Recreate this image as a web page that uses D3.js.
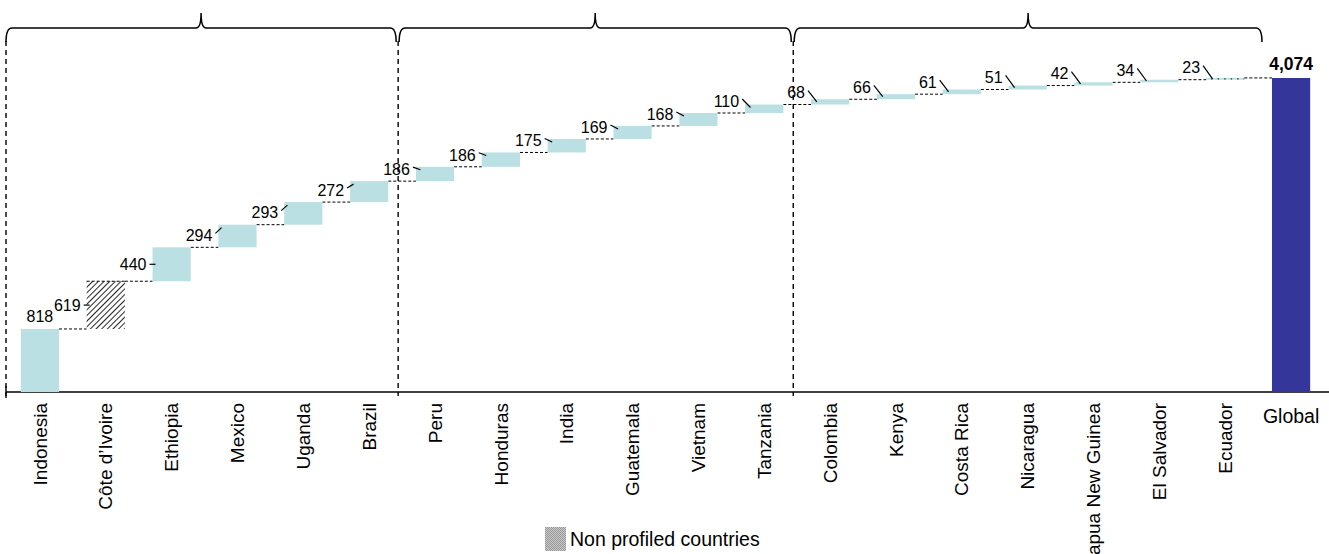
<!DOCTYPE html>
<html><head><meta charset="utf-8">
<script src="https://cdn.jsdelivr.net/npm/d3@7/dist/d3.min.js"></script>
<style>
body{margin:0;background:#fff;}
svg{display:block;font-family:"Liberation Sans",Arial,sans-serif;}
</style></head>
<body><svg id="c" width="1329" height="554"></svg>
<script>
const categories = ["Indonesia","Côte d’Ivoire","Ethiopia","Mexico","Uganda","Brazil","Peru","Honduras","India","Guatemala","Vietnam","Tanzania","Colombia","Kenya","Costa Rica","Nicaragua","Papua New Guinea","El Salvador","Ecuador"];
const values = [818,619,440,294,293,272,186,186,175,169,168,110,68,66,61,51,42,34,23];
const totalLabel = "Global";
const totalValue = 4074;
const nonProfiled = ["Côte d’Ivoire"];
const groupStarts = ["Indonesia","Peru","Colombia"];
const legendLabel = "Non profiled countries";

const svg = d3.select("#c");
const allCats = categories.concat([totalLabel]);
const x = d3.scaleBand().domain(allCats).range([7,1324]).paddingInner(0.42).paddingOuter(0.21);
const y = d3.scaleLinear().domain([0,totalValue]).range([392,78]);
const bw = x.bandwidth();

const defs = svg.append("defs");
const hatch = defs.append("pattern").attr("id","hatch").attr("patternUnits","userSpaceOnUse")
  .attr("width",4).attr("height",4).attr("patternTransform","rotate(45)");
hatch.append("rect").attr("width",4).attr("height",4).attr("fill","#fff");
hatch.append("line").attr("x1",0).attr("y1",0).attr("x2",0).attr("y2",4).attr("stroke","#1a1a1a").attr("stroke-width",1.9);
const chk = defs.append("pattern").attr("id","chk").attr("patternUnits","userSpaceOnUse").attr("width",2).attr("height",2);
chk.append("rect").attr("width",2).attr("height",2).attr("fill","#c8c8c8");
chk.append("rect").attr("width",1).attr("height",1).attr("fill","#999");
chk.append("rect").attr("x",1).attr("y",1).attr("width",1).attr("height",1).attr("fill","#999");

// cumulative
let cum = 0;
const steps = values.map((v,i)=>{const s={cat:categories[i],v,start:cum,end:cum+v}; cum+=v; return s;});

// group separators (dashed vertical lines) and braces
const sepX = groupStarts.map((c,i)=> i===0 ? x.range()[0]-1 : x(c) - x.step()*0.27);
sepX.forEach(sx=>{
  svg.append("line").attr("x1",sx).attr("x2",sx).attr("y1",41).attr("y2",396)
    .attr("stroke","#000").attr("stroke-width",1.4).attr("stroke-dasharray","5,4");
});
const braceEnds = sepX.slice(1).concat([x(totalLabel)-10]);
sepX.forEach((x0,i)=>{
  const x1 = braceEnds[i] - (i<2?2:0);
  const xs = i===0? x0 : x0+1;
  const c = (xs+x1)/2, yl = 28, ye = 42, yp = 13;
  const p = `M${xs},${ye} Q${xs},${yl} ${xs+6},${yl} L${c-5},${yl} Q${c},${yl} ${c},${yp} Q${c},${yl} ${c+5},${yl} L${x1-6},${yl} Q${x1},${yl} ${x1},${ye}`;
  svg.append("path").attr("d",p).attr("fill","none").attr("stroke","#000").attr("stroke-width",1.5);
});

// axis
const axis = svg.append("g").attr("transform","translate(0,392)")
  .call(d3.axisBottom(x).tickSize(0).tickFormat(""));
axis.select(".domain").attr("d","M6,0H1329").attr("stroke","#000").attr("stroke-width",1.6);
svg.append("line").attr("x1",6).attr("x2",6).attr("y1",386).attr("y2",398).attr("stroke","#000").attr("stroke-width",1.4);

// connectors
steps.forEach((s,i)=>{
  const next = allCats[i+1];
  svg.append("line").attr("x1",x(s.cat)+bw).attr("x2",x(next)).attr("y1",y(s.end)).attr("y2",y(s.end))
    .attr("stroke","#000").attr("stroke-width",1).attr("stroke-dasharray","3,2");
});

// bars
steps.forEach((s,i)=>{
  const np = nonProfiled.includes(s.cat);
  const h = y(s.start)-y(s.end);
  svg.append("rect").attr("x",x(s.cat)).attr("y",y(s.end)).attr("width",bw).attr("height",h)
    .attr("fill",np?"url(#hatch)":"#bae0e3");
  if(np){
    svg.append("line").attr("x1",x(s.cat)).attr("x2",x(s.cat)+bw).attr("y1",y(s.end)).attr("y2",y(s.end))
      .attr("stroke","#000").attr("stroke-width",1).attr("stroke-dasharray","3,2");
  }
  if(h<2){
    svg.append("line").attr("x1",x(s.cat)+5).attr("x2",x(s.cat)+bw).attr("y1",y(s.end)+1).attr("y2",y(s.end)+1)
      .attr("stroke","#333").attr("stroke-width",1.3).attr("stroke-dasharray","1.5,5");
  }
});
// total bar
svg.append("rect").attr("x",x(totalLabel)).attr("y",y(totalValue)).attr("width",bw).attr("height",y(0)-y(totalValue)).attr("fill","#353699");
svg.append("text").attr("x",x(totalLabel)+bw/2).attr("y",y(totalValue)-8).attr("text-anchor","middle")
  .attr("font-size",17.5).attr("font-weight","bold").text(d3.format(",")(totalValue));

// data labels
steps.forEach((s,i)=>{
  const top = y(s.end), bot = y(s.start), mid=(top+bot)/2, h = bot-top;
  const bx = x(s.cat);
  if(i===0){
    svg.append("text").attr("x",bx+bw/2).attr("y",top-7).attr("text-anchor","middle").attr("font-size",16).text(s.v);
    return;
  }
  const dy = Math.max(0, 12 - h/2);
  const ly = mid - dy;
  const endY = Math.min(mid, top+3);
  svg.append("text").attr("x",bx-6).attr("y",ly).attr("dy","0.36em").attr("text-anchor","end").attr("font-size",16).text(s.v);
  svg.append("line").attr("x1",bx-3).attr("y1",ly+(dy>0?-2:0)).attr("x2",bx+(dy>0?3+dy*0.3:3)).attr("y2",dy>0?endY:mid)
    .attr("stroke","#000").attr("stroke-width",1.2);
});

// category labels
categories.forEach(c=>{
  svg.append("text").attr("transform",`translate(${x(c)+bw/2},403) rotate(-90)`).attr("text-anchor","end")
    .attr("dy","0.35em").attr("font-size",19).text(c);
});
svg.append("text").attr("x",x(totalLabel)+bw/2).attr("y",423).attr("text-anchor","middle").attr("font-size",19.5).text(totalLabel);

// legend
svg.append("rect").attr("x",545).attr("y",527).attr("width",21).attr("height",24).attr("fill","url(#chk)");
svg.append("text").attr("x",570).attr("y",546).attr("font-size",19.5).text(legendLabel);
</script></body></html>
